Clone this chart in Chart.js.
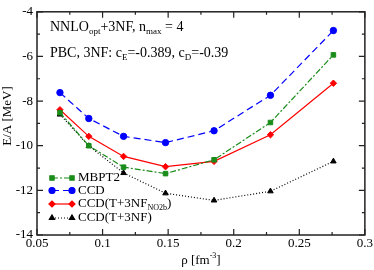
<!DOCTYPE html>
<html>
<head>
<meta charset="utf-8">
<script src="https://cdn.jsdelivr.net/npm/chart.js@4.4.1/dist/chart.umd.min.js"></script>
<style>
  html, body { margin: 0; padding: 0; background: #fff; }
  #wrap { width: 374px; height: 270px; }
</style>
</head>
<body>
<div id="wrap"><canvas id="myChart"></canvas></div>
<script>
// densities (fm^-3)
const rho = [0.0675, 0.0895, 0.116, 0.148, 0.185, 0.228, 0.276];
const mbpt2 = [-8.52, -10.0, -10.96, -11.25, -10.63, -8.96, -5.93];
const ccd = [-7.62, -8.78, -9.58, -9.86, -9.33, -7.74, -4.84];
const ccdNo2b = [-8.39, -9.58, -10.48, -10.94, -10.70, -9.51, -7.20];
const ccd3nf = [-8.6, -10.01, -11.22, -12.13, -12.45, -12.04, -10.70];
const xTicks = [0.05, 0.1, 0.15, 0.2, 0.25, 0.3];
const yTicks = [-4, -6, -8, -10, -12, -14];

const serif = "'Liberation Serif', 'DejaVu Serif', serif";

function pts(ys) {
  return ys.map((y, i) => ({ x: rho[i], y: y }));
}

const series = [
  { label: "MBPT2", data: mbpt2, color: "#1a8c1a", dash: [6, 2, 2, 2], point: "rect", r: 3.2 },
  { label: "CCD", data: ccd, color: "#0000ff", dash: [7, 4], point: "circle", r: 3.2 },
  { label: "CCD(T+3NF", sub: "NO2b", tail: ")", data: ccdNo2b, color: "#ff0000", dash: [], point: "rectRot", r: 3.2 },
  { label: "CCD(T+3NF)", data: ccd3nf, color: "#000000", dash: [1, 2], point: "triangle", r: 3.2 },
];

const boxPlugin = {
  id: "box",
  afterDraw(chart) {
    const ctx = chart.ctx;
    const a = chart.chartArea;
    const xs = chart.scales.x, ys = chart.scales.y;
    ctx.save();
    ctx.strokeStyle = "#222";
    ctx.lineWidth = 1.5;
    ctx.strokeRect(a.left, a.top, a.right - a.left, a.bottom - a.top);
    ctx.lineWidth = 1.2;
    ctx.beginPath();
    for (let v = 0.05; v <= 0.3001; v += 0.025) {
      const px = xs.getPixelForValue(v);
      const major = Math.abs((v / 0.05) - Math.round(v / 0.05)) < 1e-6;
      const len = major ? 6 : 3;
      ctx.moveTo(px, a.bottom); ctx.lineTo(px, a.bottom - len);
      ctx.moveTo(px, a.top); ctx.lineTo(px, a.top + len);
    }
    for (let v = -14; v <= -4; v += 1) {
      const py = ys.getPixelForValue(v);
      const len = (v % 2 === 0) ? 6 : 3;
      ctx.moveTo(a.left, py); ctx.lineTo(a.left + len, py);
      ctx.moveTo(a.right, py); ctx.lineTo(a.right - len, py);
    }
    ctx.stroke();

    // annotation text
    ctx.fillStyle = "#000";
    ctx.textBaseline = "alphabetic";
    const big = "14px " + serif, small = "9px " + serif;
    function run(parts, y) {
      let cx = 50;
      parts.forEach(p => {
        ctx.font = p.s ? small : big;
        const dy = p.s === "sub" ? 3 : 0;
        ctx.fillText(p.t, cx, y + dy);
        cx += ctx.measureText(p.t).width;
      });
    }
    run([{ t: "NNLO" }, { t: "opt", s: "sub" }, { t: "+3NF, n" }, { t: "max", s: "sub" }, { t: " = 4" }], 31);
    run([{ t: "PBC, 3NF: c" }, { t: "E", s: "sub" }, { t: "=-0.389, c" }, { t: "D", s: "sub" }, { t: "=-0.39" }], 57);

    // legend
    const rows = [178, 190.5, 204, 218];
    series.forEach((s, i) => {
      const y = rows[i];
      ctx.strokeStyle = s.color;
      ctx.lineWidth = 1.2;
      ctx.setLineDash(s.dash);
      ctx.beginPath(); ctx.moveTo(52, y); ctx.lineTo(72, y); ctx.stroke();
      ctx.setLineDash([]);
      [52, 72].forEach(mx => {
        Chart.helpers.drawPoint(ctx, { pointStyle: s.point, radius: 3, borderWidth: 1 }, mx, y);
        ctx.fillStyle = s.color;
        ctx.fill();
      });
      ctx.fillStyle = "#000";
      ctx.font = "13px " + serif;
      ctx.textBaseline = "middle";
      ctx.fillText(s.label, 78, y);
      if (s.sub) {
        let w = ctx.measureText(s.label).width;
        ctx.font = "8px " + serif;
        ctx.fillText(s.sub, 78 + w, y + 4);
        w += ctx.measureText(s.sub).width;
        ctx.font = "13px " + serif;
        ctx.fillText(s.tail, 78 + w, y);
      }
    });

    // axis titles
    ctx.textBaseline = "middle";
    ctx.textAlign = "center";
    ctx.font = "13px " + serif;
    ctx.save();
    ctx.translate(8, 116);
    ctx.rotate(-Math.PI / 2);
    ctx.fillText("E/A [MeV]", 0, 0);
    ctx.restore();
    ctx.textAlign = "left";
    const t1 = "ρ [fm";
    const w1 = ctx.measureText(t1).width;
    ctx.font = "8px " + serif;
    const w2 = ctx.measureText("-3").width;
    ctx.font = "13px " + serif;
    const w3 = ctx.measureText("]").width;
    const sx = (a.left + a.right) / 2 - (w1 + w2 + w3) / 2;
    ctx.fillText(t1, sx, 261);
    ctx.font = "8px " + serif;
    ctx.fillText("-3", sx + w1, 256);
    ctx.font = "13px " + serif;
    ctx.fillText("]", sx + w1 + w2, 261);
    ctx.restore();
  }
};

const config = {
  type: "line",
  data: {
    datasets: series.map(s => ({
      label: s.label,
      data: pts(s.data),
      borderColor: s.color,
      backgroundColor: s.color,
      borderWidth: 1.2,
      borderDash: s.dash,
      pointStyle: s.point,
      pointRadius: s.r,
      pointBorderWidth: 1,
      fill: false,
      tension: 0,
    })),
  },
  options: {
    responsive: true,
    maintainAspectRatio: false,
    animation: false,
    layout: { padding: { top: 5, right: 7, left: 0, bottom: 0 } },
    plugins: {
      legend: { display: false },
      tooltip: { enabled: false },
    },
    scales: {
      x: {
        type: "linear",
        min: 0.05,
        max: 0.3,
        afterBuildTicks: (sc) => { sc.ticks = xTicks.map(v => ({ value: v })); },
        afterFit: (sc) => { sc.height = 35; },
        grid: { display: false, drawTicks: false, tickLength: 0 },
        border: { display: false },
        ticks: {
          color: "#000",
          padding: 1,
          font: { family: serif, size: 13 },
          callback: (v) => String(v),
        },
      },
      y: {
        type: "linear",
        min: -14,
        max: -4,
        afterBuildTicks: (sc) => { sc.ticks = yTicks.map(v => ({ value: v })); },
        afterFit: (sc) => { sc.width = 37; },
        grid: { display: false, drawTicks: false, tickLength: 0 },
        border: { display: false },
        ticks: {
          color: "#000",
          padding: 4,
          font: { family: serif, size: 13 },
        },
      },
    },
  },
  plugins: [boxPlugin],
};

const myChart = new Chart(document.getElementById("myChart"), config);
</script>
</body>
</html>
